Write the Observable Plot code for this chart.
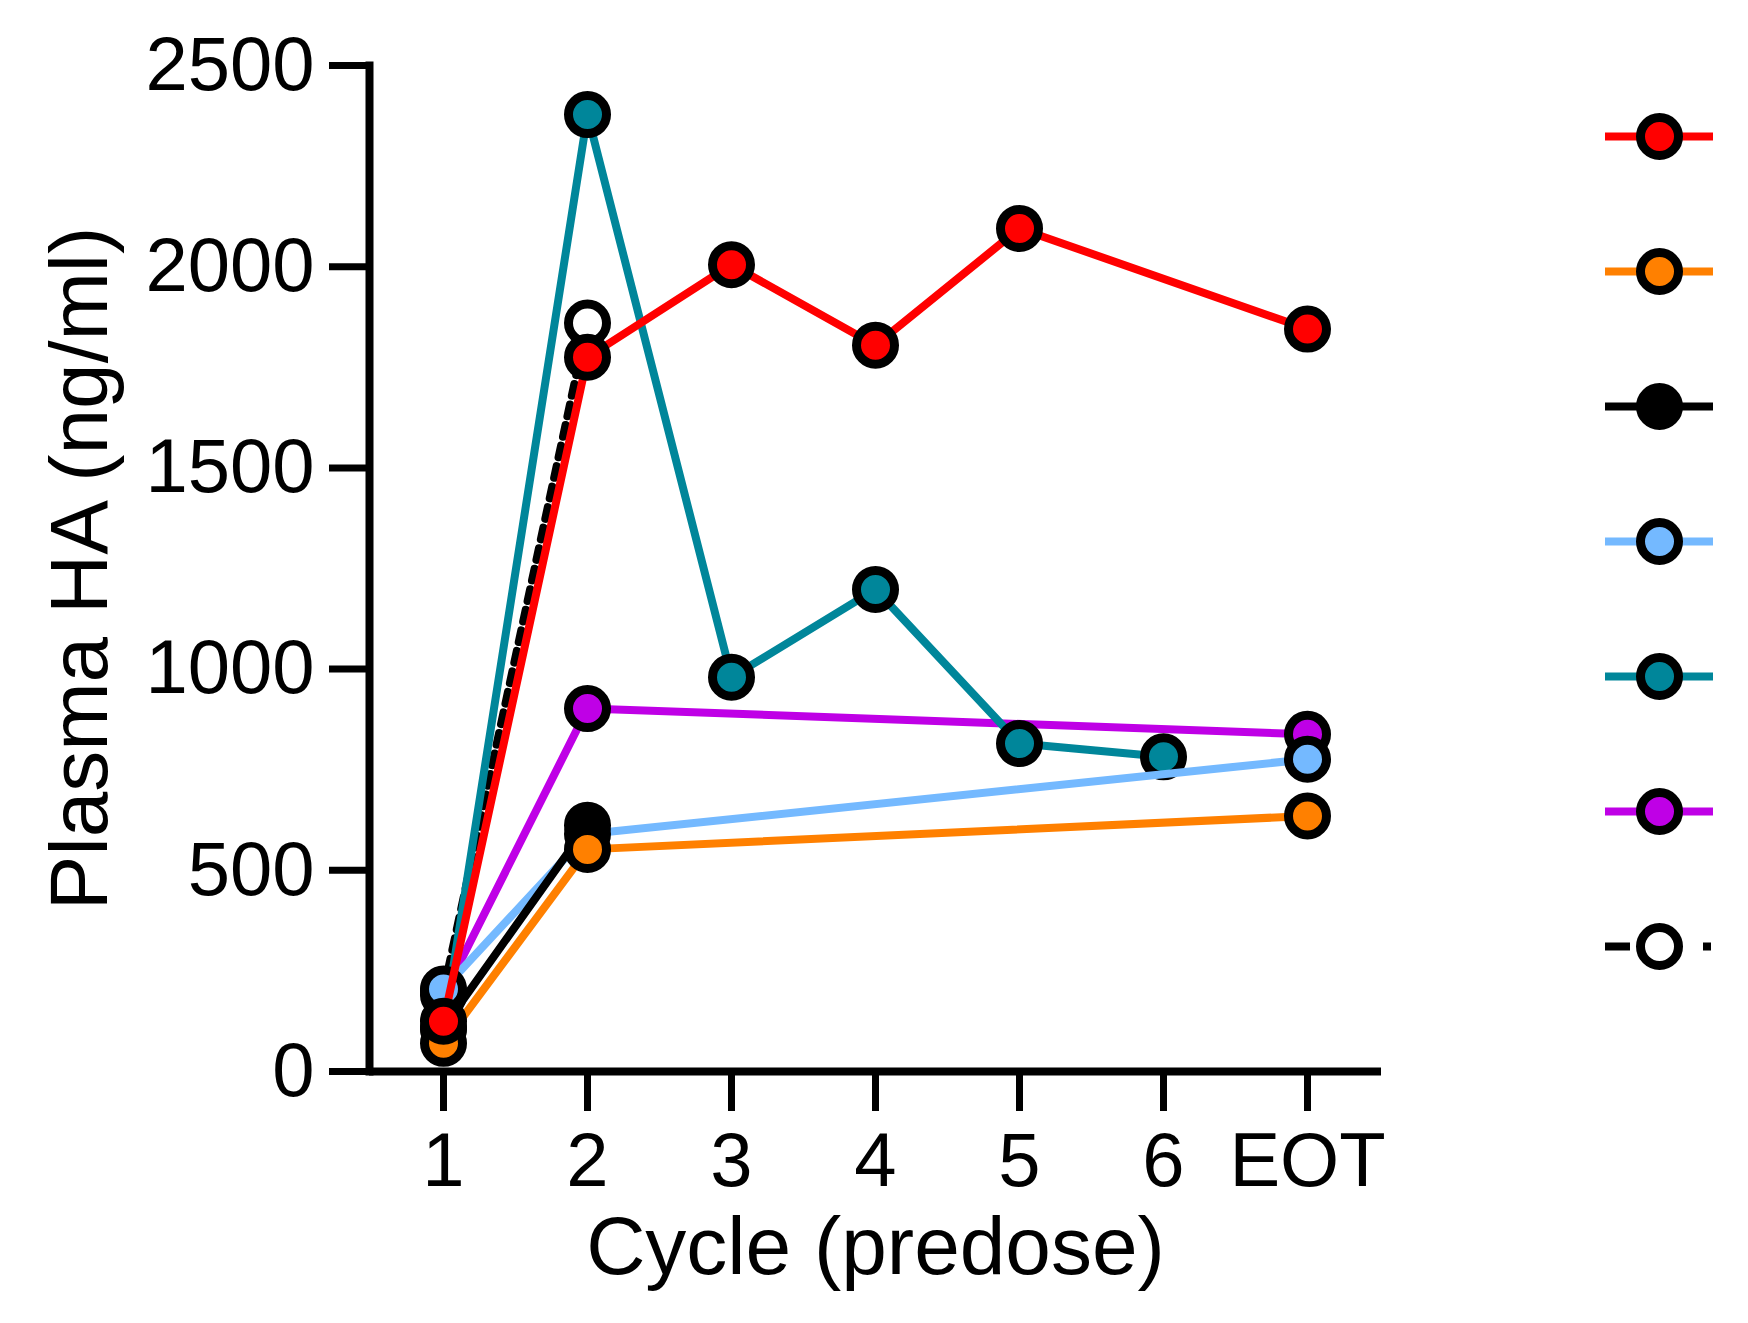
<!DOCTYPE html>
<html>
<head>
<meta charset="utf-8">
<script src="https://cdn.jsdelivr.net/npm/d3@7"></script>
<script src="https://cdn.jsdelivr.net/npm/@observablehq/plot@0.6"></script>
<style>
  body { margin: 0; background: #fff; }
  #wrap { position: relative; width: 1748px; height: 1323px; }
  #legend { position: absolute; left: 1580px; top: 0; }
</style>
</head>
<body>
<div id="wrap">
  <div id="chart"></div>
  <div id="legend"></div>
</div>
<script>
// categorias del eje x
const cycles = ["1", "2", "3", "4", "5", "6", "EOT"]
const yTicks = [0, 500, 1000, 1500, 2000, 2500]

// valores por serie (null = sin dato)
const red       = [125, 1775, 2005, 1805, 2095, null, 1845]
const orange    = [70, 552, null, null, null, null, 635]
const black     = [110, 612, null, null, null, null, null]
const lightBlue = [205, 590, null, null, null, null, 776]
const teal      = [105, 2378, 980, 1198, 815, 782, null]
const purple    = [190, 902, null, null, null, null, 838]
const open      = [200, 1860, null, null, null, null, null]

const names = ["red", "orange", "black", "lightBlue", "teal", "purple", "open"]
const values = [red, orange, black, lightBlue, teal, purple, open]
const lineColors = ["#ff0000", "#ff8000", "#000000", "#74b9ff", "#00869a", "#bf00e6", "#000000"]
const fillColors = ["#ff0000", "#ff8000", "#000000", "#74b9ff", "#00869a", "#bf00e6", "#ffffff"]
const dashes = [null, null, null, null, null, null, "12,9"]

const font = "'Liberation Sans', Arial, sans-serif"

// una tabla por serie, sin los puntos que faltan
const series = names.map((name, i) => ({
  name,
  stroke: lineColors[i],
  fill: fillColors[i],
  dash: dashes[i],
  data: cycles.map((c, j) => ({cycle: c, value: values[i][j]})).filter(d => d.value != null)
}))

// se dibujan al revés del orden de la leyenda (la roja queda encima)
const seriesMarks = series.slice().reverse().flatMap(s => [
  Plot.line(s.data, {x: "cycle", y: "value", stroke: s.stroke, strokeWidth: 8, strokeDasharray: s.dash}),
  Plot.dot(s.data, {x: "cycle", y: "value", r: 19, fill: s.fill, stroke: "#000", strokeWidth: 9})
])

let chart = Plot.plot({
  width: 1748,
  height: 1323,
  marginLeft: 369,
  marginRight: 367,
  marginTop: 65,
  marginBottom: 252,
  style: {fontFamily: font, color: "#000", background: "#fff", overflow: "visible"},
  x: {type: "point", domain: cycles, padding: 0.5},
  y: {domain: [0, 2500]},
  marks: [
    Plot.axisY({ticks: yTicks, tickSize: 40, tickPadding: 15, tickFormat: d3.format("d"), fontSize: 76, strokeWidth: 7, label: null}),
    Plot.axisX({tickSize: 40, tickPadding: 21, fontSize: 76, strokeWidth: 7, label: null}),
    Plot.frame({anchor: "left", strokeWidth: 8}),
    Plot.ruleY([0], {strokeWidth: 8}),
    Plot.text(["Cycle (predose)"], {frameAnchor: "bottom", dy: 144, lineAnchor: "top", fontSize: 82}),
    Plot.text(["Plasma HA (ng/ml)"], {frameAnchor: "left", dx: -321, rotate: -90, textAnchor: "middle", lineAnchor: "top", fontSize: 82}),
    ...seriesMarks
  ]
})
d3.select('#chart').append(() => chart)

// leyenda sin textos, a la derecha
const legendDash = [null, null, null, null, null, null, "25,73,8,100"]
let legend = Plot.plot({
  width: 168,
  height: 1323,
  marginLeft: 25,
  marginRight: 35,
  marginTop: 133,
  marginBottom: 375,
  style: {background: "transparent", overflow: "visible"},
  x: {domain: [0, 1], axis: null},
  y: {type: "point", domain: names, padding: 0, axis: null},
  marks: series.flatMap((s, i) => [
    Plot.ruleY([s.name], {y: d => d, x1: 0, x2: 1, stroke: s.stroke, strokeWidth: 8, strokeDasharray: legendDash[i]}),
    Plot.dot([s.name], {y: d => d, x: 0.5, r: 19, fill: s.fill, stroke: "#000", strokeWidth: 9})
  ])
})
d3.select('#legend').append(() => legend)
</script>
</body>
</html>
